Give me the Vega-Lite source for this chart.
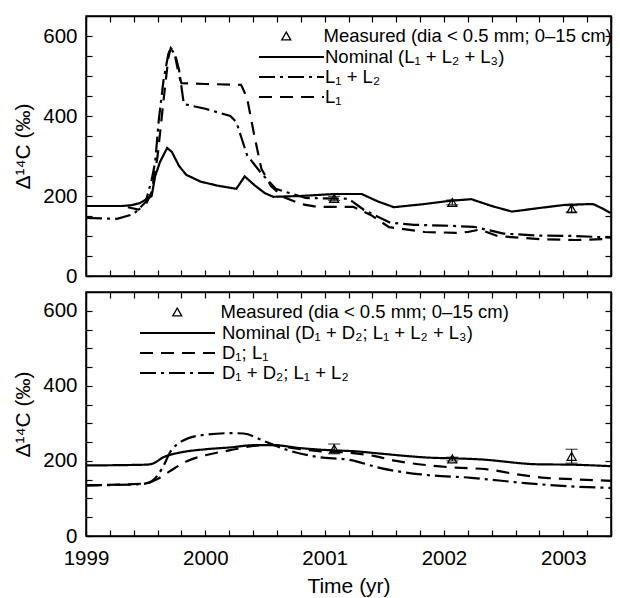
{
  "$schema": "https://vega.github.io/schema/vega-lite/v6.json",
  "padding": {"left": 12, "top": 14, "right": 8, "bottom": 0},
  "autosize": {"type": "pad"},
  "spacing": 2,
  "config": {
    "font": "Liberation Sans",
    "view": {"stroke": "black", "strokeWidth": 1.5},
    "axis": {
      "grid": false,
      "labelFlush": false,
      "domainColor": "black",
      "domainWidth": 1.5,
      "tickColor": "black",
      "tickWidth": 1.2,
      "tickSize": -6,
      "labelFont": "Liberation Sans",
      "labelFontSize": 20.5,
      "labelColor": "black",
      "titleFont": "Liberation Sans",
      "titleFontSize": 21,
      "titleFontWeight": "normal",
      "titleColor": "black"
    },
    "legend": {
      "labelFont": "Liberation Sans",
      "labelFontSize": 18.5,
      "labelColor": "black",
      "labelLimit": 0,
      "padding": 0,
      "rowPadding": 1,
      "clipHeight": 18,
      "symbolStrokeColor": "black",
      "symbolStrokeWidth": 2,
      "symbolOpacity": 1,
      "title": null
    }
  },
  "datasets": {
    "a_lines": [
      {"series": "Nominal", "year": 1999.0, "val": 175},
      {"series": "Nominal", "year": 1999.3, "val": 175},
      {"series": "Nominal", "year": 1999.38, "val": 177},
      {"series": "Nominal", "year": 1999.45, "val": 182},
      {"series": "Nominal", "year": 1999.55, "val": 200},
      {"series": "Nominal", "year": 1999.58, "val": 250},
      {"series": "Nominal", "year": 1999.62, "val": 285},
      {"series": "Nominal", "year": 1999.68, "val": 320},
      {"series": "Nominal", "year": 1999.72, "val": 310},
      {"series": "Nominal", "year": 1999.78, "val": 275},
      {"series": "Nominal", "year": 1999.84, "val": 253},
      {"series": "Nominal", "year": 1999.96, "val": 236},
      {"series": "Nominal", "year": 2000.1, "val": 226},
      {"series": "Nominal", "year": 2000.26, "val": 218},
      {"series": "Nominal", "year": 2000.33, "val": 249},
      {"series": "Nominal", "year": 2000.42, "val": 225},
      {"series": "Nominal", "year": 2000.5, "val": 207},
      {"series": "Nominal", "year": 2000.57, "val": 198},
      {"series": "Nominal", "year": 2000.8, "val": 200},
      {"series": "Nominal", "year": 2001.08, "val": 205},
      {"series": "Nominal", "year": 2001.31, "val": 205},
      {"series": "Nominal", "year": 2001.45, "val": 186},
      {"series": "Nominal", "year": 2001.58, "val": 172},
      {"series": "Nominal", "year": 2001.84, "val": 180},
      {"series": "Nominal", "year": 2002.05, "val": 188},
      {"series": "Nominal", "year": 2002.23, "val": 192},
      {"series": "Nominal", "year": 2002.4, "val": 175},
      {"series": "Nominal", "year": 2002.57, "val": 161},
      {"series": "Nominal", "year": 2002.8, "val": 170},
      {"series": "Nominal", "year": 2003.02, "val": 178},
      {"series": "Nominal", "year": 2003.25, "val": 180},
      {"series": "Nominal", "year": 2003.32, "val": 170},
      {"series": "Nominal", "year": 2003.4, "val": 157},
      {"series": "L1L2", "year": 1999.0, "val": 145},
      {"series": "L1L2", "year": 1999.26, "val": 143},
      {"series": "L1L2", "year": 1999.4, "val": 155},
      {"series": "L1L2", "year": 1999.5, "val": 185},
      {"series": "L1L2", "year": 1999.55, "val": 240},
      {"series": "L1L2", "year": 1999.58, "val": 285},
      {"series": "L1L2", "year": 1999.61, "val": 390},
      {"series": "L1L2", "year": 1999.65, "val": 490},
      {"series": "L1L2", "year": 1999.69, "val": 555},
      {"series": "L1L2", "year": 1999.71, "val": 570},
      {"series": "L1L2", "year": 1999.75, "val": 550},
      {"series": "L1L2", "year": 1999.78, "val": 515},
      {"series": "L1L2", "year": 1999.82, "val": 430},
      {"series": "L1L2", "year": 2000.0, "val": 418},
      {"series": "L1L2", "year": 2000.21, "val": 400},
      {"series": "L1L2", "year": 2000.26, "val": 385},
      {"series": "L1L2", "year": 2000.35, "val": 302},
      {"series": "L1L2", "year": 2000.46, "val": 260},
      {"series": "L1L2", "year": 2000.59, "val": 218},
      {"series": "L1L2", "year": 2000.84, "val": 195},
      {"series": "L1L2", "year": 2001.2, "val": 193},
      {"series": "L1L2", "year": 2001.33, "val": 165},
      {"series": "L1L2", "year": 2001.55, "val": 133},
      {"series": "L1L2", "year": 2001.75, "val": 128},
      {"series": "L1L2", "year": 2002.0, "val": 126},
      {"series": "L1L2", "year": 2002.25, "val": 123},
      {"series": "L1L2", "year": 2002.5, "val": 106},
      {"series": "L1L2", "year": 2002.8, "val": 101},
      {"series": "L1L2", "year": 2003.1, "val": 100},
      {"series": "L1L2", "year": 2003.4, "val": 96},
      {"series": "L1", "year": 1999.0, "val": 175},
      {"series": "L1", "year": 1999.3, "val": 175},
      {"series": "L1", "year": 1999.38, "val": 170},
      {"series": "L1", "year": 1999.44, "val": 166},
      {"series": "L1", "year": 1999.5, "val": 178},
      {"series": "L1", "year": 1999.55, "val": 210},
      {"series": "L1", "year": 1999.6, "val": 300},
      {"series": "L1", "year": 1999.65, "val": 440},
      {"series": "L1", "year": 1999.69, "val": 545},
      {"series": "L1", "year": 1999.71, "val": 570},
      {"series": "L1", "year": 1999.74, "val": 560},
      {"series": "L1", "year": 1999.78, "val": 500},
      {"series": "L1", "year": 1999.8, "val": 482},
      {"series": "L1", "year": 2000.0, "val": 480},
      {"series": "L1", "year": 2000.3, "val": 478},
      {"series": "L1", "year": 2000.35, "val": 445},
      {"series": "L1", "year": 2000.41, "val": 352},
      {"series": "L1", "year": 2000.47, "val": 268},
      {"series": "L1", "year": 2000.55, "val": 225},
      {"series": "L1", "year": 2000.65, "val": 198},
      {"series": "L1", "year": 2000.8, "val": 180},
      {"series": "L1", "year": 2000.93, "val": 173},
      {"series": "L1", "year": 2001.24, "val": 173},
      {"series": "L1", "year": 2001.39, "val": 152},
      {"series": "L1", "year": 2001.54, "val": 122},
      {"series": "L1", "year": 2001.84, "val": 110},
      {"series": "L1", "year": 2002.1, "val": 108},
      {"series": "L1", "year": 2002.2, "val": 110},
      {"series": "L1", "year": 2002.3, "val": 116},
      {"series": "L1", "year": 2002.45, "val": 100},
      {"series": "L1", "year": 2002.8, "val": 92},
      {"series": "L1", "year": 2003.1, "val": 90},
      {"series": "L1", "year": 2003.4, "val": 93}
    ],
    "a_meas": [
      {"year": 2001.08, "val": 194, "lo": 189, "hi": 199},
      {"year": 2002.07, "val": 184, "lo": 178, "hi": 190},
      {"year": 2003.07, "val": 168, "lo": 160, "hi": 176}
    ],
    "b_lines": [
      {"series": "Nominal", "year": 1999.0, "val": 188},
      {"series": "Nominal", "year": 1999.5, "val": 190},
      {"series": "Nominal", "year": 1999.56, "val": 193},
      {"series": "Nominal", "year": 1999.65, "val": 210},
      {"series": "Nominal", "year": 1999.8, "val": 223},
      {"series": "Nominal", "year": 2000.0, "val": 231},
      {"series": "Nominal", "year": 2000.21, "val": 236},
      {"series": "Nominal", "year": 2000.41, "val": 242},
      {"series": "Nominal", "year": 2000.57, "val": 242},
      {"series": "Nominal", "year": 2000.8, "val": 234},
      {"series": "Nominal", "year": 2001.08, "val": 228},
      {"series": "Nominal", "year": 2001.24, "val": 226},
      {"series": "Nominal", "year": 2001.45, "val": 220},
      {"series": "Nominal", "year": 2001.81, "val": 210},
      {"series": "Nominal", "year": 2002.31, "val": 204},
      {"series": "Nominal", "year": 2002.79, "val": 191},
      {"series": "Nominal", "year": 2003.07, "val": 190},
      {"series": "Nominal", "year": 2003.4, "val": 186},
      {"series": "D1L1", "year": 1999.0, "val": 135},
      {"series": "D1L1", "year": 1999.5, "val": 140},
      {"series": "D1L1", "year": 1999.6, "val": 152},
      {"series": "D1L1", "year": 1999.7, "val": 172},
      {"series": "D1L1", "year": 1999.85, "val": 200},
      {"series": "D1L1", "year": 2000.0, "val": 215},
      {"series": "D1L1", "year": 2000.2, "val": 228},
      {"series": "D1L1", "year": 2000.4, "val": 240},
      {"series": "D1L1", "year": 2000.55, "val": 243},
      {"series": "D1L1", "year": 2000.7, "val": 236},
      {"series": "D1L1", "year": 2000.95, "val": 226},
      {"series": "D1L1", "year": 2001.2, "val": 222},
      {"series": "D1L1", "year": 2001.4, "val": 214},
      {"series": "D1L1", "year": 2001.6, "val": 200},
      {"series": "D1L1", "year": 2001.85, "val": 189},
      {"series": "D1L1", "year": 2002.1, "val": 182},
      {"series": "D1L1", "year": 2002.35, "val": 178},
      {"series": "D1L1", "year": 2002.6, "val": 165},
      {"series": "D1L1", "year": 2002.85, "val": 155},
      {"series": "D1L1", "year": 2003.1, "val": 151},
      {"series": "D1L1", "year": 2003.4, "val": 147},
      {"series": "D1D2", "year": 1999.0, "val": 135},
      {"series": "D1D2", "year": 1999.46, "val": 138},
      {"series": "D1D2", "year": 1999.55, "val": 146},
      {"series": "D1D2", "year": 1999.64, "val": 181},
      {"series": "D1D2", "year": 1999.71, "val": 226},
      {"series": "D1D2", "year": 1999.8, "val": 252},
      {"series": "D1D2", "year": 1999.96, "val": 268},
      {"series": "D1D2", "year": 2000.21, "val": 274},
      {"series": "D1D2", "year": 2000.32, "val": 273},
      {"series": "D1D2", "year": 2000.49, "val": 253},
      {"series": "D1D2", "year": 2000.66, "val": 232},
      {"series": "D1D2", "year": 2000.93, "val": 211},
      {"series": "D1D2", "year": 2001.22, "val": 202},
      {"series": "D1D2", "year": 2001.48, "val": 180},
      {"series": "D1D2", "year": 2001.81, "val": 164},
      {"series": "D1D2", "year": 2002.23, "val": 155},
      {"series": "D1D2", "year": 2002.68, "val": 141},
      {"series": "D1D2", "year": 2003.07, "val": 132},
      {"series": "D1D2", "year": 2003.4, "val": 128}
    ],
    "b_meas": [
      {"year": 2001.08, "val": 232, "lo": 219, "hi": 245},
      {"year": 2002.07, "val": 205, "lo": 200, "hi": 210},
      {"year": 2003.07, "val": 212, "lo": 194, "hi": 231}
    ]
  },
  "resolve": {
    "scale": {"strokeDash": "independent", "shape": "independent"},
    "legend": {"strokeDash": "independent", "shape": "independent"}
  },
  "vconcat": [
    {
      "width": 525,
      "height": 260,
      "resolve": {"axis": {"x": "independent", "y": "independent"}},
      "layer": [
        {
          "data": {"name": "a_lines"},
          "mark": {"type": "line", "color": "black", "strokeWidth": 2.2},
          "encoding": {
            "x": {"field": "year", "type": "quantitative", "scale": {"domain": [1999, 2003.4], "nice": false, "zero": false},
              "axis": {"orient": "bottom", "labels": false, "title": null, "values": [1999, 1999.2, 1999.4, 1999.6, 1999.8, 2000, 2000.2, 2000.4, 2000.6, 2000.8, 2001, 2001.2, 2001.4, 2001.6, 2001.8, 2002, 2002.2, 2002.4, 2002.6, 2002.8, 2003, 2003.2, 2003.4]}},
            "y": {"field": "val", "type": "quantitative", "scale": {"domain": [0, 650], "nice": false},
              "axis": {"orient": "left", "title": "Δ¹⁴C (‰)", "titlePadding": 9, "labelPadding": 15, "values": [0, 50, 100, 150, 200, 250, 300, 350, 400, 450, 500, 550, 600], "labelExpr": "datum.value % 200 == 0 ? datum.label : ''"}},
            "detail": {"field": "series"},
            "strokeDash": {"field": "series", "type": "nominal",
              "scale": {"domain": ["Nominal", "L1L2", "L1"], "range": [[1, 0], [16, 5, 3, 5], [13, 8]]},
              "legend": {"orient": "none", "legendX": 172, "legendY": 32, "symbolType": "stroke", "symbolSize": 4225, "labelOffset": 0,
                "labelExpr": "datum.value == 'Nominal' ? 'Nominal (L₁ + L₂ + L₃)' : datum.value == 'L1L2' ? 'L₁ + L₂' : 'L₁'"}}
          }
        },
        {
          "data": {"name": "a_meas"},
          "mark": {"type": "errorbar", "ticks": {"size": 12}, "color": "black", "thickness": 1.2},
          "encoding": {
            "x": {"field": "year", "type": "quantitative", "axis": null},
            "y": {"field": "lo", "type": "quantitative", "axis": null},
            "y2": {"field": "hi"}
          }
        },
        {
          "data": {"name": "a_meas"},
          "mark": {"type": "point", "filled": false, "color": "black", "opacity": 1, "size": 80, "strokeWidth": 1.3},
          "encoding": {
            "x": {"field": "year", "type": "quantitative", "scale": {"domain": [1999, 2003.4], "nice": false, "zero": false},
              "axis": {"orient": "top", "labels": false, "title": null, "values": [1999, 1999.2, 1999.4, 1999.6, 1999.8, 2000, 2000.2, 2000.4, 2000.6, 2000.8, 2001, 2001.2, 2001.4, 2001.6, 2001.8, 2002, 2002.2, 2002.4, 2002.6, 2002.8, 2003, 2003.2, 2003.4]}},
            "y": {"field": "val", "type": "quantitative", "scale": {"domain": [0, 650], "nice": false},
              "axis": {"orient": "right", "labels": false, "title": null, "values": [0, 50, 100, 150, 200, 250, 300, 350, 400, 450, 500, 550, 600]}},
            "shape": {"datum": "Measured (dia < 0.5 mm; 0–15 cm)", "type": "nominal", "scale": {"range": ["triangle-up"]},
              "legend": {"orient": "none", "legendX": 191, "legendY": 11, "symbolSize": 80, "labelOffset": 28, "symbolStrokeWidth": 1.3, "symbolFillColor": "transparent"}}
          }
        },
        {
          "mark": {"type": "text", "align": "left", "baseline": "middle", "fontSize": 20.5, "font": "Liberation Sans", "color": "black"},
          "encoding": {
            "x": {"datum": 1999.1, "type": "quantitative", "axis": null},
            "y": {"datum": 598, "type": "quantitative", "axis": null},
            "text": {"value": "(a)"}
          }
        }
      ]
    },
    {
      "width": 525,
      "height": 244,
      "resolve": {"axis": {"x": "independent", "y": "independent"}},
      "layer": [
        {
          "data": {"name": "b_lines"},
          "mark": {"type": "line", "color": "black", "strokeWidth": 2.2, "interpolate": "monotone"},
          "encoding": {
            "x": {"field": "year", "type": "quantitative", "scale": {"domain": [1999, 2003.4], "nice": false, "zero": false},
              "axis": {"orient": "bottom", "title": "Time (yr)", "labelPadding": 18, "titlePadding": 7, "values": [1999, 1999.2, 1999.4, 1999.6, 1999.8, 2000, 2000.2, 2000.4, 2000.6, 2000.8, 2001, 2001.2, 2001.4, 2001.6, 2001.8, 2002, 2002.2, 2002.4, 2002.6, 2002.8, 2003, 2003.2, 2003.4], "labelExpr": "datum.value % 1 == 0 ? format(datum.value, 'd') : ''"}},
            "y": {"field": "val", "type": "quantitative", "scale": {"domain": [0, 650], "nice": false},
              "axis": {"orient": "left", "title": "Δ¹⁴C (‰)", "titlePadding": 9, "labelPadding": 15, "values": [0, 50, 100, 150, 200, 250, 300, 350, 400, 450, 500, 550, 600], "labelExpr": "datum.value % 200 == 0 ? datum.label : ''"}},
            "detail": {"field": "series"},
            "strokeDash": {"field": "series", "type": "nominal",
              "scale": {"domain": ["Nominal", "D1L1", "D1D2"], "range": [[1, 0], [13, 8], [16, 5, 3, 5]]},
              "legend": {"orient": "none", "legendX": 53, "legendY": 32, "symbolType": "stroke", "symbolSize": 5625, "labelOffset": 6,
                "labelExpr": "datum.value == 'Nominal' ? 'Nominal (D₁ + D₂; L₁ + L₂ + L₃)' : datum.value == 'D1L1' ? 'D₁; L₁' : 'D₁ + D₂; L₁ + L₂'"}}
          }
        },
        {
          "data": {"name": "b_meas"},
          "mark": {"type": "errorbar", "ticks": {"size": 12}, "color": "black", "thickness": 1.2},
          "encoding": {
            "x": {"field": "year", "type": "quantitative", "axis": null},
            "y": {"field": "lo", "type": "quantitative", "axis": null},
            "y2": {"field": "hi"}
          }
        },
        {
          "data": {"name": "b_meas"},
          "mark": {"type": "point", "filled": false, "color": "black", "opacity": 1, "size": 80, "strokeWidth": 1.3},
          "encoding": {
            "x": {"field": "year", "type": "quantitative", "scale": {"domain": [1999, 2003.4], "nice": false, "zero": false},
              "axis": {"orient": "top", "labels": false, "title": null, "values": [1999, 1999.2, 1999.4, 1999.6, 1999.8, 2000, 2000.2, 2000.4, 2000.6, 2000.8, 2001, 2001.2, 2001.4, 2001.6, 2001.8, 2002, 2002.2, 2002.4, 2002.6, 2002.8, 2003, 2003.2, 2003.4]}},
            "y": {"field": "val", "type": "quantitative", "scale": {"domain": [0, 650], "nice": false},
              "axis": {"orient": "right", "labels": false, "title": null, "values": [0, 50, 100, 150, 200, 250, 300, 350, 400, 450, 500, 550, 600]}},
            "shape": {"datum": "Measured (dia < 0.5 mm; 0–15 cm)", "type": "nominal", "scale": {"range": ["triangle-up"]},
              "legend": {"orient": "none", "legendX": 82, "legendY": 11, "symbolSize": 80, "labelOffset": 34, "symbolStrokeWidth": 1.3, "symbolFillColor": "transparent"}}
          }
        },
        {
          "mark": {"type": "text", "align": "left", "baseline": "middle", "fontSize": 20.5, "font": "Liberation Sans", "color": "black"},
          "encoding": {
            "x": {"datum": 1999.1, "type": "quantitative", "axis": null},
            "y": {"datum": 595, "type": "quantitative", "axis": null},
            "text": {"value": "(b)"}
          }
        }
      ]
    }
  ]
}
